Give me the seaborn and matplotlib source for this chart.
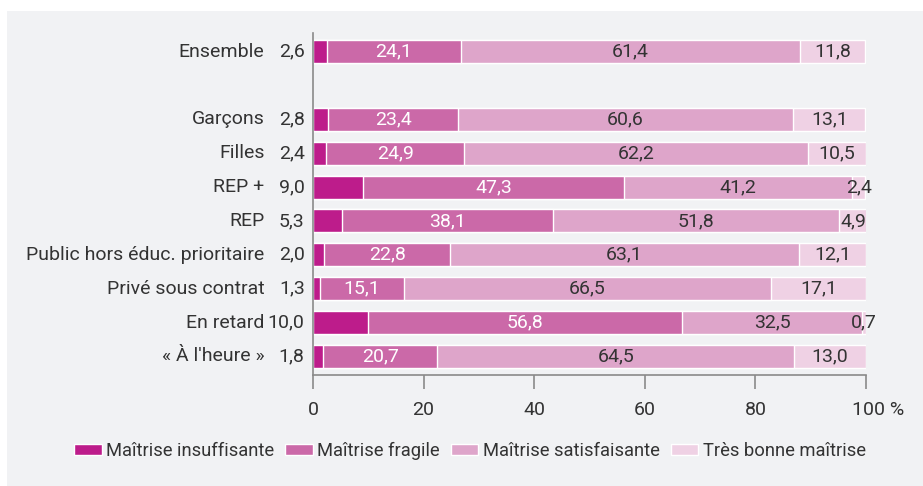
import matplotlib.pyplot as plt
import matplotlib.patches as mpatches
import seaborn as sns
import pandas as pd
import numpy as np

categories = ["Ensemble", "Garçons", "Filles", "REP +", "REP",
              "Public hors éduc. prioritaire", "Privé sous contrat",
              "En retard", "« À l'heure »"]
insuffisante = [2.6, 2.8, 2.4, 9.0, 5.3, 2.0, 1.3, 10.0, 1.8]
fragile = [24.1, 23.4, 24.9, 47.3, 38.1, 22.8, 15.1, 56.8, 20.7]
satisfaisante = [61.4, 60.6, 62.2, 41.2, 51.8, 63.1, 66.5, 32.5, 64.5]
tres_bonne = [11.8, 13.1, 10.5, 2.4, 4.9, 12.1, 17.1, 0.7, 13.0]
xticks = [0, 20, 40, 60, 80, 100]

series_names = ["Maîtrise insuffisante", "Maîtrise fragile",
                "Maîtrise satisfaisante", "Très bonne maîtrise"]
colors = ["#bd1c8b", "#cb69a8", "#dea5ca", "#efd1e4"]
text_colors = ["#333333", "white", "#333333", "#333333"]

df = pd.DataFrame({"cat": categories, "s0": insuffisante, "s1": fragile,
                   "s2": satisfaisante, "s3": tres_bonne})
vals = df[["s0", "s1", "s2", "s3"]].to_numpy()
cum = np.cumsum(vals, axis=1)
for i in range(4):
    df[f"c{i}"] = cum[:, i]

# blank slot between Ensemble and the rest
order = [categories[0], " "] + categories[1:]

sns.set_theme(style="white")
plt.rcParams["font.family"] = ["Roboto", "DejaVu Sans"]
bg = "#f1f2f4"
fs = 14
tick_len, tick_pad = 10, 9

fig = plt.figure(figsize=(9.23, 4.86), dpi=100)
fig.patch.set_facecolor("white")
fig.patches.append(mpatches.Rectangle((7 / 923, 0), 916 / 923, 475 / 486,
                                      transform=fig.transFigure,
                                      facecolor=bg, edgecolor="none", zorder=-10))
ax = fig.add_axes([313 / 923, 111 / 486, 553 / 923, 342 / 486])
ax.patch.set_alpha(0)

# stacked bars: draw cumulative totals from largest to smallest
for i in [3, 2, 1, 0]:
    sns.barplot(data=df, x=f"c{i}", y="cat", order=order, color=colors[i],
                saturation=1, width=0.68, edgecolor="white", linewidth=1,
                ax=ax)

for r, c in enumerate(categories):
    y = order.index(c)
    ax.annotate(f"{insuffisante[r]:.1f}".replace(".", ","), (0, y),
                xytext=(-6, 0), textcoords="offset points", ha="right",
                va="center", fontsize=fs, color="#333333")
    ax.annotate(c, (0, y), xytext=(-35, 0), textcoords="offset points",
                ha="right", va="center", fontsize=fs, color="#333333")
    for i in range(1, 4):
        mid = cum[r, i] - vals[r, i] / 2
        ax.text(mid, y, f"{vals[r, i]:.1f}".replace(".", ","), ha="center",
                va="center", fontsize=fs, color=text_colors[i])

ax.set_xlim(0, 100)
ax.set_ylim(len(order) - 0.45, -0.55)
ax.set_xticks(xticks)
ax.set_xticklabels([str(t) for t in xticks[:-1]] + [""], fontsize=fs,
                   color="#333333")
# last label "100 %" with "100" centred on its tick
ax.annotate(f"{xticks[-1]} %", (xticks[-1], 0),
            xycoords=("data", "axes fraction"),
            xytext=(-10, -(tick_len + tick_pad)), textcoords="offset points",
            ha="left", va="top", fontsize=fs, color="#333333")
ax.set_yticks([])
ax.set_xlabel("")
ax.set_ylabel("")
sns.despine(ax=ax, top=True, right=True)
for s in ["left", "bottom"]:
    ax.spines[s].set_color("#8a8a8a")
    ax.spines[s].set_linewidth(1.2)
ax.tick_params(axis="x", length=tick_len, width=1.2, color="#8a8a8a",
               pad=tick_pad, direction="out", bottom=True)

handles = [mpatches.Patch(facecolor=colors[i], edgecolor="white", linewidth=1,
                          label=series_names[i]) for i in range(4)]
fig.legend(handles=handles, loc="center", bbox_to_anchor=(470 / 923, 1 - 451 / 486),
           ncol=4, frameon=False, fontsize=13.2, handlelength=1.5,
           handleheight=0.55, handletextpad=0.25, columnspacing=0.6,
           labelcolor="#333333")

fig.savefig("out.png", dpi=100, facecolor="white")
